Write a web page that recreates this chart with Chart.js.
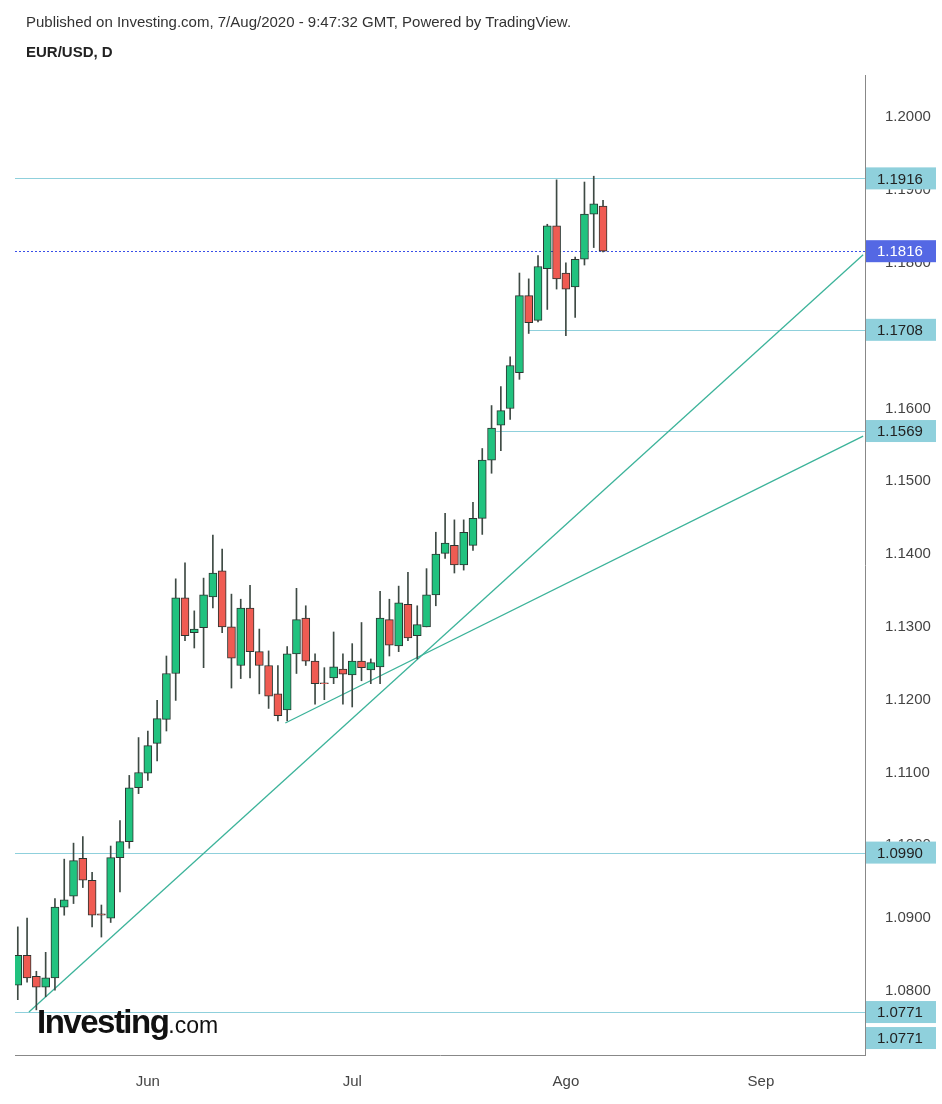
<!DOCTYPE html>
<html><head><meta charset="utf-8">
<script src="https://cdn.jsdelivr.net/npm/chart.js@4/dist/chart.umd.min.js"></script>
<style>
body{margin:0;background:#fff;width:942px;height:1104px;overflow:hidden;font-family:"Liberation Sans",Arial,sans-serif}
#t1{position:absolute;left:26px;top:13px;font-size:15px;color:#333}
#t2{position:absolute;left:26px;top:43px;font-size:15px;font-weight:bold;color:#222}
#logo{position:absolute;left:37px;top:1003px;font-size:33px;font-weight:bold;color:#111;letter-spacing:-1.5px}
#logo span{font-size:23px;font-weight:normal;letter-spacing:0}
canvas{position:absolute;left:0;top:0}
</style></head><body>
<canvas id="c" width="942" height="1104"></canvas>
<div id="t1">Published on Investing.com, 7/Aug/2020 - 9:47:32 GMT, Powered by TradingView.</div>
<div id="t2">EUR/USD, D</div>
<div id="logo">Investing<span>.com</span></div>
<script>
const opens=[1.0808,1.0849,1.0820,1.0805,1.0818,1.0915,1.0930,1.0982,1.0952,1.0906,
1.0900,1.0983,1.1005,1.1079,1.1099,1.1140,1.1173,1.1236,1.1340,1.1292,
1.1299,1.1341,1.1377,1.1300,1.1247,1.1326,1.1266,1.1247,1.1208,1.1186,
1.1263,1.1312,1.1253,1.1223,1.1230,1.1242,1.1234,1.1253,1.1241,1.1245,
1.1310,1.1274,1.1331,1.1288,1.1300,1.1344,1.1401,1.1412,1.1385,1.1412,
1.1449,1.1529,1.1577,1.1600,1.1649,1.1755,1.1721,1.1792,1.1851,1.1786,
1.1767,1.1805,1.1867,1.1878];
const closes=[1.0849,1.0818,1.0805,1.0818,1.0915,1.0925,1.0979,1.0952,1.0904,1.0904,
1.0983,1.1005,1.1079,1.1100,1.1137,1.1174,1.1236,1.1340,1.1288,1.1297,
1.1344,1.1374,1.1300,1.1257,1.1326,1.1266,1.1247,1.1205,1.1178,1.1263,
1.1310,1.1253,1.1222,1.1222,1.1245,1.1235,1.1253,1.1244,1.1251,1.1312,
1.1275,1.1333,1.1285,1.1303,1.1344,1.1400,1.1415,1.1385,1.1430,1.1449,
1.1529,1.1573,1.1597,1.1659,1.1755,1.1718,1.1795,1.1851,1.1778,1.1764,
1.1805,1.1867,1.1881,1.1816];
const highs=[1.0888,1.0900,1.0827,1.0853,1.0927,1.0981,1.1003,1.1012,1.0963,1.0918,
1.0999,1.1034,1.1096,1.1148,1.1157,1.1199,1.1260,1.1366,1.1388,1.1322,
1.1367,1.1426,1.1407,1.1345,1.1338,1.1357,1.1297,1.1267,1.1247,1.1273,
1.1353,1.1329,1.1263,1.1244,1.1293,1.1263,1.1277,1.1306,1.1256,1.1349,
1.1338,1.1356,1.1375,1.1329,1.1380,1.1430,1.1456,1.1447,1.1447,1.1471,
1.1545,1.1604,1.1630,1.1671,1.1786,1.1778,1.1810,1.1853,1.1914,1.1800,
1.1808,1.1911,1.1919,1.1886];
const lows=[1.0788,1.0812,1.0774,1.0792,1.0801,1.0904,1.0920,1.0942,1.0888,1.0874,
1.0894,1.0936,1.0996,1.1071,1.1089,1.1116,1.1157,1.1199,1.1281,1.1271,
1.1244,1.1326,1.1292,1.1216,1.1229,1.1230,1.1208,1.1188,1.1171,1.1171,
1.1236,1.1247,1.1194,1.1200,1.1222,1.1194,1.1190,1.1226,1.1222,1.1222,
1.1260,1.1266,1.1281,1.1256,1.1300,1.1329,1.1394,1.1374,1.1378,1.1405,
1.1427,1.1511,1.1542,1.1585,1.1640,1.1703,1.1719,1.1736,1.1764,1.1700,
1.1725,1.1797,1.1821,1.1815];
const monthTicks=[14,36,59,80];
const monthLabels=["Jun","Jul","Ago","Sep"];
const trend1=[{x:1.2,y:1.0771},{x:91,y:1.1811}];
const trend2=[{x:28.8,y:1.1168},{x:91,y:1.1562}];
const levelPrices=[1.1916,1.1816,1.1708,1.1569,1.0990,1.0771];
const levelStarts=[-1,-1,55,51.5,-1,-1];

const green='#21c27f', red='#ef5b52';
const up=opens.map((o,i)=>closes[i]>=o);
const bodies=opens.map((o,i)=>({x:i,y:[Math.min(o,closes[i]),Math.max(o,closes[i])+ (Math.abs(o-closes[i])<0.00008?0.00008:0)]}));
const wicks=opens.map((o,i)=>({x:i,y:[lows[i],highs[i]]}));

const levelsPlugin={id:'levels',
 beforeDatasetsDraw(ch){const {ctx,chartArea:a,scales:{x,y}}=ch;ctx.save();
  levelPrices.forEach((p,k)=>{const py=Math.round(y.getPixelForValue(p))+0.5;
   const sx=levelStarts[k]<0?a.left:x.getPixelForValue(levelStarts[k]);
   ctx.beginPath();ctx.lineWidth=1;
   if(k===1){ctx.strokeStyle='#3a4fe8';ctx.setLineDash([2,2]);}else{ctx.strokeStyle='#8fd0dc';ctx.setLineDash([]);}
   ctx.moveTo(sx,py);ctx.lineTo(a.right,py);ctx.stroke();});
  ctx.restore();},
 afterDraw(ch){const {ctx,chartArea:a,scales:{y}}=ch;ctx.save();
  ctx.font='15px "Liberation Sans", Arial';ctx.textBaseline='middle';
  const boxes=levelPrices.map((p,k)=>({p,k,py:y.getPixelForValue(p)}));
  boxes.push({p:1.0771,k:6,py:y.getPixelForValue(1.0771)+26});
  boxes.forEach(b=>{const blue=b.k===1;
   ctx.fillStyle=blue?'#5468e4':'#8fd0dc';
   ctx.fillRect(a.right+1,b.py-11,70,22);
   ctx.fillStyle=blue?'#fff':'#222';
   ctx.fillText(b.p.toFixed(4),a.right+12,b.py+1);});
  ctx.restore();}
};

new Chart(document.getElementById('c'),{
 type:'bar',
 data:{datasets:[
  {type:'line',data:trend1,borderColor:'#3cb39a',borderWidth:1.3,pointRadius:0,order:3},
  {type:'line',data:trend2,borderColor:'#3cb39a',borderWidth:1.3,pointRadius:0,order:3},
  {data:wicks,backgroundColor:'#3e4a44',barThickness:1,grouped:false,order:2},
  {data:bodies,backgroundColor:up.map(u=>u?green:red),borderColor:'#2b3530',borderWidth:1,borderSkipped:false,barThickness:8,grouped:false,order:1}
 ]},
 options:{responsive:false,animation:false,
  layout:{padding:{top:75,left:15,right:0,bottom:0}},
  plugins:{legend:{display:false},tooltip:{enabled:false}},
  scales:{
   x:{type:'linear',min:-0.3,max:91.2,offset:false,grid:{display:false},
      border:{display:true,color:'#888'},
      afterBuildTicks(s){s.ticks=monthTicks.map(v=>({value:v}));},
      ticks:{autoSkip:false,maxRotation:0,color:'#444',font:{size:15,family:'"Liberation Sans", Arial'},padding:10,
        callback:(v)=>monthLabels[monthTicks.indexOf(v)]},
      afterFit(s){s.height=49;}},
   y:{position:'right',min:1.0712,max:1.2058,grid:{display:false},border:{display:true,color:'#888'},
      afterBuildTicks(s){const t=[];for(let v=1.08;v<=1.2001;v+=0.01)t.push({value:+v.toFixed(4)});s.ticks=t;},
      ticks:{color:'#444',font:{size:15,family:'"Liberation Sans", Arial'},padding:12,callback:v=>v.toFixed(4)},
      afterFit(s){s.width=77;}}
  }},
 plugins:[levelsPlugin]
});
</script></body></html>
